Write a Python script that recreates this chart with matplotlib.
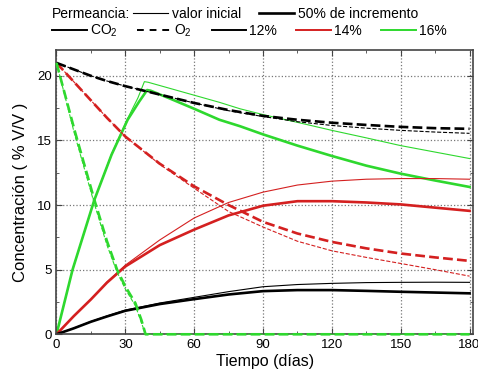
import matplotlib
matplotlib.use("Agg")
import matplotlib.pyplot as plt
from matplotlib.lines import Line2D
from matplotlib.ticker import MultipleLocator

plt.rcParams["font.family"] = ["Liberation Sans", "DejaVu Sans"]
plt.rcParams["mathtext.fontset"] = "custom"
plt.rcParams["mathtext.rm"] = "Liberation Sans"

# tiempo (dias) para las curvas de 12% y 14%
dias = [0, 7.5, 15, 22, 30, 45, 60, 75, 90, 105, 120, 135, 150, 165, 180]

# 12%: CO2 y O2, permeancia inicial y con 50% de incremento
co2_12_ini = [0, 0.47, 0.99, 1.42, 1.87, 2.42, 2.86, 3.30, 3.68, 3.85, 3.94, 4.00, 4.02, 4.03, 4.02]
co2_12_inc = [0, 0.46, 0.97, 1.38, 1.82, 2.34, 2.72, 3.08, 3.34, 3.42, 3.42, 3.36, 3.29, 3.23, 3.17]
o2_12_ini = [21, 20.5, 20.0, 19.6, 19.2, 18.55, 17.9, 17.3, 16.85, 16.45, 16.16, 15.95, 15.78, 15.65, 15.55]
o2_12_inc = [21, 20.5, 20.0, 19.6, 19.2, 18.55, 17.9, 17.35, 16.9, 16.6, 16.37, 16.2, 16.05, 15.95, 15.9]

# 14%
co2_14_ini = [0, 1.4, 2.7, 4.05, 5.35, 7.3, 9.0, 10.2, 11.0, 11.55, 11.85, 12.0, 12.05, 12.05, 12.0]
co2_14_inc = [0, 1.4, 2.7, 4.0, 5.25, 6.9, 8.1, 9.2, 9.95, 10.3, 10.3, 10.2, 10.05, 9.8, 9.55]
o2_14_ini = [21, 19.55, 18.1, 16.75, 15.3, 13.15, 11.3, 9.5, 8.3, 7.2, 6.46, 5.95, 5.48, 5.0, 4.5]
o2_14_inc = [21, 19.55, 18.1, 16.75, 15.3, 13.2, 11.45, 10.0, 8.7, 7.8, 7.15, 6.65, 6.25, 5.95, 5.68]

# 16%: cambio brusco hacia el dia 39
dias_16_ini = [0, 7, 16.5, 24, 31, 35.5, 38.3, 40, 50, 60, 71, 80, 90, 105, 120, 135, 150, 165, 180]
co2_16_ini = [0, 5.0, 10.4, 13.95, 16.7, 18.3, 19.55, 19.5, 19.0, 18.5, 17.95, 17.45, 17.0, 16.4, 15.78, 15.2, 14.6, 14.1, 13.6]
dias_16_inc = [0, 7, 16.5, 24, 31, 36, 39.5, 41, 50, 60, 71, 80, 90, 105, 120, 135, 150, 165, 180]
co2_16_inc = [0, 5.0, 10.4, 13.9, 16.6, 18.0, 18.9, 18.85, 18.2, 17.45, 16.6, 16.1, 15.47, 14.6, 13.8, 13.05, 12.43, 11.9, 11.4]

dias_o2_16 = [0, 8, 16.5, 22, 26.4, 30, 34.4, 37, 38.8, 60, 90, 120, 150, 180]
o2_16_ini = [21, 15.4, 10.1, 6.9, 4.8, 3.5, 2.2, 0.9, 0, 0, 0, 0, 0, 0]
o2_16_inc = [21, 15.7, 10.4, 7.2, 5.0, 3.7, 2.4, 1.1, 0, 0, 0, 0, 0, 0]

negro = "black"
rojo = "#d42020"
verde = "#2ed82e"
fino = 0.8
grueso = 1.9

fig = plt.figure(figsize=(4.78, 3.81), dpi=100)
ax = fig.add_axes([0.1182, 0.1226, 0.8713, 0.7462])

# 16%
ax.plot(dias_16_ini, co2_16_ini, color=verde, lw=fino)
ax.plot(dias_16_inc, co2_16_inc, color=verde, lw=grueso)
# el O2 llega a cero y queda sobre el eje inferior
ax.plot(dias_o2_16, o2_16_ini, color=verde, lw=fino, ls="--", clip_on=False, zorder=3)
ax.plot(dias_o2_16, o2_16_inc, color=verde, lw=grueso, ls="--", clip_on=False, zorder=3)

# 14%
ax.plot(dias, co2_14_ini, color=rojo, lw=fino)
ax.plot(dias, co2_14_inc, color=rojo, lw=grueso)
ax.plot(dias, o2_14_ini, color=rojo, lw=fino, ls="--")
ax.plot(dias, o2_14_inc, color=rojo, lw=grueso, ls="--")

# 12%
ax.plot(dias, co2_12_ini, color=negro, lw=fino)
ax.plot(dias, co2_12_inc, color=negro, lw=grueso)
ax.plot(dias, o2_12_ini, color=negro, lw=fino, ls="--")
ax.plot(dias, o2_12_inc, color=negro, lw=grueso, ls="--")

ax.set_xlim(0, 181.5)
ax.set_ylim(0, 22)
ax.xaxis.set_major_locator(MultipleLocator(30))
ax.xaxis.set_minor_locator(MultipleLocator(15))
ax.yaxis.set_major_locator(MultipleLocator(5))
ax.yaxis.set_minor_locator(MultipleLocator(2.5))
ax.tick_params(which="both", direction="in", top=True, right=True,
               labelsize=9.5, color="#444444")
ax.tick_params(which="major", length=4)
ax.tick_params(which="minor", length=2.5)
ax.grid(True, which="major", ls=":", color="#777777", lw=0.9)
for s in ax.spines.values():
    s.set_color("#444444")
    s.set_linewidth(1.2)

ax.set_xlabel("Tiempo (días)", fontsize=11.5, labelpad=2)
ax.set_ylabel("Concentración ( % V/V )", fontsize=12, labelpad=6)

# leyenda superior en dos filas
fig.text(52 / 478, 1 - 14 / 381, "Permeancia:", fontsize=10, va="center")
fila1 = [Line2D([], [], color=negro, lw=fino), Line2D([], [], color=negro, lw=grueso)]
fig.legend(fila1, ["valor inicial", "50% de incremento"], ncol=2, fontsize=10,
           loc="center left", bbox_to_anchor=(133 / 478, 1 - 14 / 381),
           frameon=False, borderpad=0, borderaxespad=0,
           handlelength=2.5, handletextpad=0.3, columnspacing=1.3)

fila2 = [Line2D([], [], color=negro, lw=1.4),
         Line2D([], [], color=negro, lw=1.4, ls="--", dashes=(3.5, 3)),
         Line2D([], [], color=negro, lw=1.4),
         Line2D([], [], color=rojo, lw=1.4),
         Line2D([], [], color=verde, lw=1.4)]
fig.legend(fila2, ["CO$_2$", "O$_2$", "12%", "14%", "16%"], ncol=5, fontsize=10,
           loc="center left", bbox_to_anchor=(52 / 478, 1 - 31 / 381),
           frameon=False, borderpad=0, borderaxespad=0,
           handlelength=2.5, handletextpad=0.2, columnspacing=1.4)

fig.savefig("out.png", dpi=100)
